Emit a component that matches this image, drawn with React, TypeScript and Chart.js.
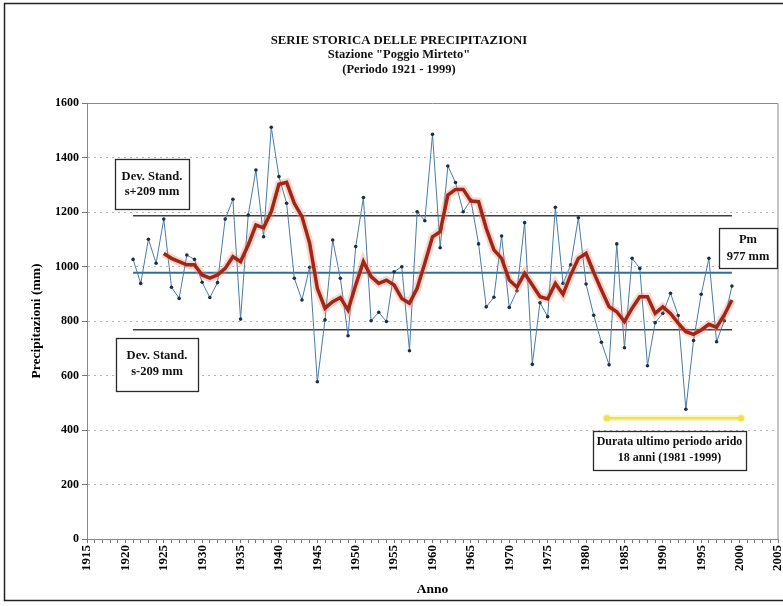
import React, { useEffect, useRef } from "react";
import { Chart, registerables } from "chart.js";

Chart.register(...registerables);

// ---------- data ----------
const YEARS = [
  1921, 1922, 1923, 1924, 1925, 1926, 1927, 1928, 1929, 1930,
  1931, 1932, 1933, 1934, 1935, 1936, 1937, 1938, 1939, 1940,
  1941, 1942, 1943, 1944, 1945, 1946, 1947, 1948, 1949, 1950,
  1951, 1952, 1953, 1954, 1955, 1956, 1957, 1958, 1959, 1960,
  1961, 1962, 1963, 1964, 1965, 1966, 1967, 1968, 1969, 1970,
  1971, 1972, 1973, 1974, 1975, 1976, 1977, 1978, 1979, 1980,
  1981, 1982, 1983, 1984, 1985, 1986, 1987, 1988, 1989, 1990,
  1991, 1992, 1993, 1994, 1995, 1996, 1997, 1998, 1999,
];

const RAINFALL = [
  1026, 938, 1100, 1012, 1174, 924, 883, 1042, 1026, 942,
  886, 941, 1174, 1247, 807, 1189, 1354, 1109, 1511, 1330,
  1232, 957, 877, 997, 577, 804, 1097, 957, 746, 1073,
  1253, 801, 832, 798, 981, 999, 691, 1201, 1168, 1485,
  1069, 1369, 1308, 1201, 1244, 1083, 852, 887, 1112, 850,
  911, 1161, 641, 867, 816, 1217, 938, 1006, 1179, 936,
  821, 722, 639, 1083, 702, 1030, 993, 636, 794, 828,
  902, 820, 476, 728, 898, 1030, 724, 801, 928,
];

const MA_YEARS = [
  1925, 1926, 1927, 1928, 1929, 1930,
  1931, 1932, 1933, 1934, 1935, 1936, 1937, 1938, 1939, 1940,
  1941, 1942, 1943, 1944, 1945, 1946, 1947, 1948, 1949, 1950,
  1951, 1952, 1953, 1954, 1955, 1956, 1957, 1958, 1959, 1960,
  1961, 1962, 1963, 1964, 1965, 1966, 1967, 1968, 1969, 1970,
  1971, 1972, 1973, 1974, 1975, 1976, 1977, 1978, 1979, 1980,
  1981, 1982, 1983, 1984, 1985, 1986, 1987, 1988, 1989, 1990,
  1991, 1992, 1993, 1994, 1995, 1996, 1997, 1998, 1999,
];

const MOVING_AVG = [
  1048, 1030, 1018, 1006, 1006, 969,
  957, 969, 993, 1036, 1018, 1079, 1152, 1142, 1201, 1302,
  1309, 1232, 1183, 1085, 920, 847, 871, 886, 840, 932,
  1018, 963, 938, 950, 932, 883, 865, 920, 1012, 1109,
  1128, 1262, 1283, 1283, 1240, 1238, 1140, 1061, 1030, 950,
  924, 975, 932, 889, 881, 938, 898, 969, 1030, 1048,
  978, 914, 852, 834, 798, 847, 889, 889, 828, 852,
  828, 792, 761, 751, 767, 788, 777, 822, 877,
];

const LINE_YEARS = [1921, 1999];
const MEAN = 977;
const UPPER = 1186; // s + 209
const LOWER = 768; // s - 209

const ARID_YEARS = [1982.7, 2000.2];
const ARID_LEVEL = 443;

const X_LABELS = [1915, 1920, 1925, 1930, 1935, 1940, 1945, 1950, 1955, 1960, 1965, 1970, 1975, 1980, 1985, 1990, 1995, 2000, 2005];
const X_MIN = 1915;
const X_MAX = 2005;
const Y_TICKS = [0, 200, 400, 600, 800, 1000, 1200, 1400, 1600];

const TITLE = ["SERIE STORICA DELLE PRECIPITAZIONI", 'Stazione "Poggio Mirteto"', "(Periodo 1921 - 1999)"];

const SERIF = "'Liberation Serif', 'Times New Roman', serif";

const pts = (xs: number[], ys: number[]) => xs.map((x, i) => ({ x, y: ys[i] }));
const hline = (xs: number[], v: number) => xs.map((x) => ({ x, y: v }));

function drawBox(ctx: CanvasRenderingContext2D, x: number, y: number, w: number, h: number, lines: string[], lineYs: number[], size = 12.5) {
  ctx.save();
  ctx.fillStyle = "#ffffff";
  ctx.fillRect(x, y, w, h);
  ctx.strokeStyle = "#2a2a2a";
  ctx.lineWidth = 1.3;
  ctx.strokeRect(x + 0.5, y + 0.5, w, h);
  ctx.fillStyle = "#111";
  ctx.font = `bold ${size}px ${SERIF}`;
  ctx.textAlign = "center";
  ctx.textBaseline = "middle";
  lines.forEach((t, i) => ctx.fillText(t, x + w / 2, lineYs[i]));
  ctx.restore();
}

const decor = {
  id: "decor",
  beforeDraw(chart: any) {
    const { ctx, width, height } = chart;
    ctx.save();
    ctx.fillStyle = "#ffffff";
    ctx.fillRect(0, 0, width, height);
    ctx.restore();
  },
  beforeDatasetsDraw(chart: any) {
    const { ctx, chartArea } = chart;
    ctx.save();
    ctx.strokeStyle = "#8a8a8a";
    ctx.lineWidth = 1;
    ctx.beginPath();
    ctx.moveTo(chartArea.left, Math.round(chartArea.top) + 0.5);
    ctx.lineTo(chartArea.right, Math.round(chartArea.top) + 0.5);
    ctx.lineTo(chartArea.right, chartArea.bottom);
    ctx.stroke();
    ctx.restore();
  },
  afterDraw(chart: any) {
    const { ctx } = chart;
    ctx.save();
    // outer frame
    ctx.strokeStyle = "#222";
    ctx.lineWidth = 1.5;
    ctx.strokeRect(4.5, 3.5, 800, 597);
    // titles
    ctx.fillStyle = "#111";
    ctx.textAlign = "center";
    ctx.textBaseline = "middle";
    ctx.font = `bold 12.8px ${SERIF}`;
    ctx.fillText(TITLE[0], 399, 41);
    ctx.font = `bold 12.5px ${SERIF}`;
    ctx.fillText(TITLE[1], 399, 55);
    ctx.fillText(TITLE[2], 399, 69.5);
    ctx.restore();
    drawBox(ctx, 115, 159, 74, 50, ["Dev. Stand.", "s+209 mm"], [177, 192]);
    drawBox(ctx, 116, 338, 82, 53, ["Dev. Stand.", "s-209 mm"], [356, 372]);
    drawBox(ctx, 719, 228, 58, 40, ["Pm", "977 mm"], [240, 257]);
    drawBox(ctx, 593, 431, 153, 39, ["Durata ultimo periodo arido", "18 anni (1981 -1999)"], [442, 458], 12);
  },
};

export default function App() {
  const ref = useRef<HTMLCanvasElement | null>(null);

  useEffect(() => {
    if (!ref.current) return;
    const chart = new Chart(ref.current, {
      type: "line",
      data: {
        datasets: [
          {
            label: "Media mobile",
            data: pts(MA_YEARS, MOVING_AVG),
            borderColor: "#9f2618",
            borderWidth: 3.5,
            pointRadius: 0,
            tension: 0,
            order: 0,
          },
          {
            label: "glow",
            data: pts(MA_YEARS, MOVING_AVG),
            borderColor: "rgba(240,140,110,0.35)",
            borderWidth: 8,
            pointRadius: 0,
            tension: 0,
            order: 1,
          },
          {
            label: "Precipitazioni",
            data: pts(YEARS, RAINFALL),
            borderColor: "#4a7ca6",
            borderWidth: 1,
            pointRadius: 1.8,
            pointBackgroundColor: "#1d2f44",
            pointBorderWidth: 0,
            tension: 0,
            order: 2,
          },
          {
            label: "s+209",
            data: hline(LINE_YEARS, UPPER),
            borderColor: "#3a3f44",
            borderWidth: 1.6,
            pointRadius: 0,
            order: 3,
          },
          {
            label: "Pm",
            data: hline(LINE_YEARS, MEAN),
            borderColor: "#2f6e9c",
            borderWidth: 2,
            pointRadius: 0,
            order: 3,
          },
          {
            label: "s-209",
            data: hline(LINE_YEARS, LOWER),
            borderColor: "#3a3f44",
            borderWidth: 1.6,
            pointRadius: 0,
            order: 3,
          },
          {
            label: "arido glow",
            data: hline(ARID_YEARS, ARID_LEVEL),
            borderColor: "rgba(250,240,150,0.6)",
            borderWidth: 6,
            pointRadius: 4.5,
            pointBackgroundColor: "rgba(250,240,150,0.6)",
            pointBorderWidth: 0,
            order: 5,
          },
          {
            label: "arido",
            data: hline(ARID_YEARS, ARID_LEVEL),
            borderColor: "#ece05a",
            borderWidth: 2.5,
            pointRadius: 3,
            pointBackgroundColor: "#ece05a",
            pointBorderWidth: 0,
            order: 4,
          },
        ],
      },
      options: {
        animation: false,
        responsive: false,
        maintainAspectRatio: false,
        layout: { padding: { top: 103, right: 5, left: 0, bottom: 0 } },
        plugins: {
          legend: { display: false },
          tooltip: { enabled: false },
          title: { display: false },
        },
        scales: {
          x: {
            type: "linear",
            min: X_MIN,
            max: X_MAX,
            afterBuildTicks: (scale: any) => {
              const t: { value: number }[] = [];
              for (let v = X_MIN; v <= X_MAX; v++) t.push({ value: v });
              scale.ticks = t;
            },
            afterFit: (scale: any) => {
              scale.height = 67;
              scale.paddingLeft = 0;
              scale.paddingRight = 0;
            },
            ticks: {
              autoSkip: false,
              maxRotation: 90,
              minRotation: 90,
              padding: 2,
              color: "#000",
              font: { family: SERIF, size: 13, weight: "bold" },
              callback: (v: any) => (X_LABELS.includes(Number(v)) ? String(v) : ""),
            },
            grid: {
              drawOnChartArea: false,
              drawTicks: true,
              tickLength: 4,
              tickColor: "#777",
            },
            border: { color: "#8a8a8a", width: 1 },
            title: {
              display: true,
              text: "Anno",
              color: "#000",
              font: { family: SERIF, size: 13.5, weight: "bold" },
              padding: { top: 0, bottom: 8 },
            },
          },
          y: {
            min: 0,
            max: 1600,
            afterBuildTicks: (scale: any) => {
              scale.ticks = Y_TICKS.map((value) => ({ value }));
            },
            afterFit: (scale: any) => {
              scale.width = 87;
              scale.paddingTop = 0;
              scale.paddingBottom = 0;
            },
            ticks: {
              padding: 3,
              color: "#000",
              font: { family: SERIF, size: 12, weight: "bold" },
              callback: (v: any) => String(v),
            },
            grid: {
              color: (c: any) => (c.tick && (c.tick.value === 0 || c.tick.value === 1600) ? "rgba(0,0,0,0)" : "#b4b4b4"),
              lineWidth: 1,
              tickLength: 5,
              tickColor: "#777",
              tickBorderDash: [],
            },
            border: { color: "#8a8a8a", width: 1, dash: [2, 4] },
            title: {
              display: true,
              text: "Precipitazioni (mm)",
              color: "#000",
              font: { family: SERIF, size: 13.5, weight: "bold" },
              padding: { top: 28, bottom: 0 },
            },
          },
        },
      },
      plugins: [decor],
    } as any);
    return () => chart.destroy();
  }, []);

  return (
    <div style={{ position: "absolute", left: 0, top: 0, width: 783, height: 606 }}>
      <canvas ref={ref} width={783} height={606} style={{ display: "block", width: 783, height: 606 }} />
    </div>
  );
}
